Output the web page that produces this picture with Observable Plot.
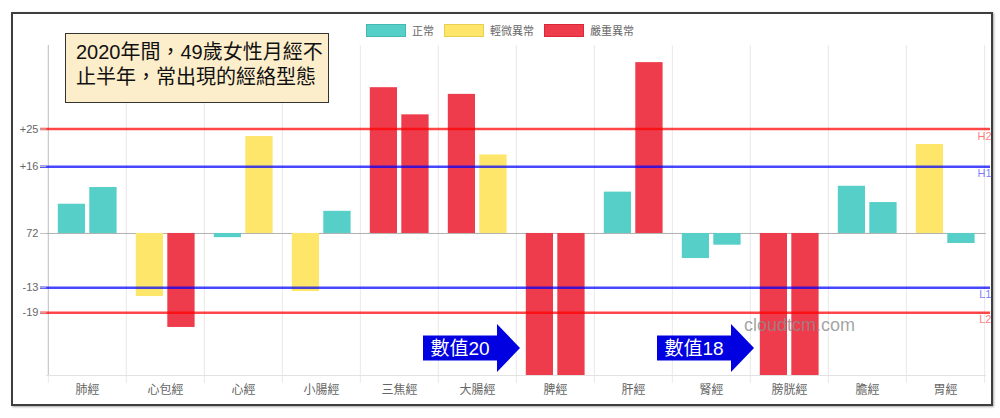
<!DOCTYPE html>
<html>
<head>
<meta charset="utf-8">
<script src="https://cdn.jsdelivr.net/npm/d3@7"></script>
<script src="https://cdn.jsdelivr.net/npm/@observablehq/plot@0.6"></script>
<style>
  html, body { margin: 0; padding: 0; background: #fff; }
  body { font-family: "Liberation Sans", "Noto Sans CJK TC", sans-serif; }
  #wrap { position: relative; width: 1000px; height: 418px; overflow: hidden; }
  #chart { position: absolute; left: 0; top: 0; }
  #border { position: absolute; left: 11px; top: 12px; width: 978px; height: 390px;
            border: 2px solid #3e3e3e; box-shadow: 1px 1px 2px rgba(0,0,0,0.35); pointer-events: none; }
  #legend { position: absolute; left: 0; top: 22px; width: 1000px; display: flex; justify-content: center;
            align-items: center; font-size: 11px; color: #666; font-family: "Noto Sans CJK TC", sans-serif; }
  #legend .item { display: flex; align-items: center; margin: 0 5px; }
  #legend .sw { width: 38px; height: 11px; margin-right: 6px; border: 1px solid; }
  #note { position: absolute; left: 65px; top: 33px; width: 264px; height: 70px; box-sizing: border-box;
          border: 1.5px solid #333; background: #fdeecb; color: #111; font-size: 20px; line-height: 25px;
          padding: 6px 0 0 10px; font-family: "Liberation Sans", "Noto Sans CJK TC", sans-serif; white-space: nowrap; }
  #wm { position: absolute; left: 744px; top: 315px; font-size: 18px; color: rgba(140,140,140,0.8);
        font-family: "Liberation Sans", sans-serif; pointer-events: none; }
</style>
</head>
<body>
<div id="wrap">
  <div id="chart"></div>
  <div id="legend"></div>
  <div id="note">2020年間，49歲女性月經不<br>止半年，常出現的經絡型態</div>
  <div id="wm">cloudtcm.com</div>
  <div id="border"></div>
</div>
<script>
// ---- data ----
const categories = ["肺經","心包經","心經","小腸經","三焦經","大腸經","脾經","肝經","腎經","膀胱經","膽經","胃經"];
// deviation from baseline 72 (left bar / right bar)
const leftValues  = [7.0, -15.1, -1.0, -13.9, 34.9, 33.3, -52, 9.9, -6.0, -54, 11.3, 21.3];
const rightValues = [11.0, -22.5, 23.2, 5.3, 28.4, 18.8, -52, 40.9, -2.8, -54, 7.4, -2.4];
const leftStatus  = ["正常","輕微異常","正常","輕微異常","嚴重異常","嚴重異常","嚴重異常","正常","正常","嚴重異常","正常","輕微異常"];
const rightStatus = ["正常","嚴重異常","輕微異常","正常","嚴重異常","輕微異常","嚴重異常","嚴重異常","正常","嚴重異常","正常","正常"];
const statusNames  = ["正常","輕微異常","嚴重異常"];
const statusColors = ["#55cfc7","#fde66a","#ef3c4c"];
const statusBorders = ["#45b8b0","#e8cf50","#d8283a"];
const yTicks      = [25, 16, 0, -13, -19];
const yTickLabels = ["+25","+16","72","-13","-19"];
const yDomain     = [-34, 45];
const refLabels = ["H2","H1","L1","L2"];
const refValues = [25, 16, -13, -19];
const refColors = ["#ff0000","#0000ff","#0000ff","#ff0000"];
const arrowTargets = ["脾經","膀胱經"];
const arrowTexts   = ["數值20","數值18"];

// ---- layout ----
const W = 1000, H = 418, mL = 46, mR = 14, mT = 45, mB = 43;
const bw = (W - mL - mR) / categories.length;
const font = '"Liberation Sans", "Noto Sans CJK TC", sans-serif';

const leftData  = categories.map((c, i) => ({cat: c, v: leftValues[i],  s: leftStatus[i]}));
const rightData = categories.map((c, i) => ({cat: c, v: rightValues[i], s: rightStatus[i]}));

const chart = Plot.plot({
  width: W, height: H,
  marginLeft: mL, marginRight: mR, marginTop: mT, marginBottom: mB,
  style: {fontFamily: font, fontSize: "11px", color: "#666", background: "transparent", overflow: "visible"},
  x: {domain: categories, padding: 0},
  y: {domain: yDomain, clamp: true},
  color: {domain: statusNames, range: statusColors},
  marks: [
    Plot.ruleX(categories, {x: d => d, dx: -bw / 2, stroke: "#e8e8e8", insetBottom: -8}),
    Plot.ruleX(categories.slice(-1), {x: d => d, dx: bw / 2, stroke: "#e8e8e8", insetBottom: -8}),
    Plot.ruleX(categories.slice(0, 1), {x: d => d, dx: -bw / 2, stroke: "#c4c4c4"}),
    Plot.ruleY(yDomain.slice(0, 1), {stroke: "#e2e2e2"}),
    Plot.ruleY([0], {stroke: "#b0b0b0", insetLeft: -6}),
    Plot.barY(leftData,  {x: "cat", y: "v", fill: "s", insetLeft: 9.8, insetRight: 41}),
    Plot.barY(rightData, {x: "cat", y: "v", fill: "s", insetLeft: 41.3, insetRight: 9.4}),
    ...refValues.map((v, i) => Plot.ruleY([v], {stroke: refColors[i], strokeWidth: 2.5, strokeOpacity: 0.72, insetLeft: -6, insetRight: -4})),
    ...refValues.map((v, i) => Plot.text([refLabels[i]], {y: () => v, text: d => d, frameAnchor: "right", textAnchor: "end", dx: 5, dy: 7, fill: refColors[i], fillOpacity: 0.55, fontSize: 11})),
    Plot.axisY(yTicks, {tickFormat: d => yTickLabels[yTicks.indexOf(d)], tickSize: 6, tickPadding: 2, stroke: "#c8c8c8", fill: "#666", fontSize: 11, label: null}),
    Plot.axisX({tickSize: 0, tickPadding: 10, fill: "#666", fontSize: 12, label: null, fontFamily: '"Noto Sans CJK TC", sans-serif'})
  ]
});
document.getElementById("chart").appendChild(chart);

// arrows anchored to the target category bands
const xs = chart.scale("x"), ys = chart.scale("y");
const svg = d3.select(chart);
arrowTargets.forEach((cat, i) => {
  const tx = xs.apply(cat) + 4;
  const cy = ys.apply(yDomain[0]) - 27;
  const g = svg.append("g");
  g.append("path")
    .attr("d", `M${tx-97},${cy-12.5}L${tx-23},${cy-12.5}L${tx-23},${cy-24}L${tx},${cy}L${tx-23},${cy+24}L${tx-23},${cy+12.5}L${tx-97},${cy+12.5}Z`)
    .attr("fill", "#0000e0");
  g.append("text")
    .attr("x", tx - 60).attr("y", cy).attr("dy", "0.36em")
    .attr("text-anchor", "middle").attr("fill", "#fff")
    .attr("font-size", 19).attr("font-family", font)
    .text(arrowTexts[i]);
});

// legend
const legend = d3.select("#legend");
statusNames.forEach((n, i) => {
  const it = legend.append("div").attr("class", "item");
  it.append("div").attr("class", "sw").style("background", statusColors[i]).style("border-color", statusBorders[i]);
  it.append("span").text(n);
});
</script>
</body>
</html>
